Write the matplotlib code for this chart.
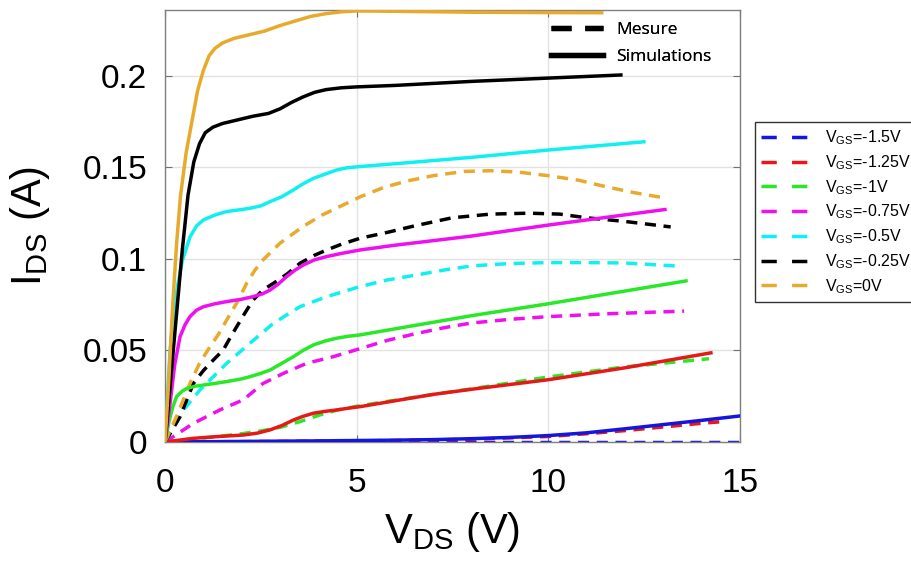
import matplotlib
matplotlib.use("Agg")
import numpy as np
import matplotlib.pyplot as plt
from matplotlib.lines import Line2D

# gate voltages and colours, from -1.5 V up to 0 V
vgs_labels = ["-1.5V", "-1.25V", "-1V", "-0.75V", "-0.5V", "-0.25V", "0V"]
colors = ["#1515e0", "#e81818", "#28e828", "#ee10ee", "#10f0f0", "#000000", "#e8aa2c"]

# simulations (solid lines): VDS (V), IDS (A)
sim_v = [
    [0, 2, 4, 6, 7, 8, 9, 10, 11, 12, 13, 14, 15],
    [0, 0.74, 1.4, 2.04, 2.4, 2.74, 3.05, 3.35, 3.6, 3.87, 4.2, 4.48, 4.8, 5.09, 6, 7, 8, 10, 12, 14.25],
    [0, 0.1, 0.2, 0.3, 0.45, 0.57, 0.8, 1.0, 1.3, 1.61, 2.0, 2.22, 2.5, 2.74, 3.05, 3.35, 3.6, 3.87,
     4.2, 4.48, 4.8, 5.09, 6, 8, 10, 13.6],
    [0, 0.13, 0.25, 0.39, 0.52, 0.65, 0.82, 1.0, 1.3, 1.61, 2.0, 2.3, 2.55, 2.74, 2.95, 3.17, 3.4,
     3.61, 3.9, 4.22, 4.6, 5.09, 6, 8, 10, 13.05],
    [0, 0.13, 0.26, 0.45, 0.65, 0.82, 1.0, 1.3, 1.61, 2.0, 2.22, 2.5, 2.74, 3.05, 3.35, 3.6, 3.87,
     4.2, 4.48, 4.75, 5.04, 6, 8, 10, 12.5],
    [0, 0.15, 0.3, 0.45, 0.6, 0.75, 0.9, 1.05, 1.25, 1.5, 1.9, 2.3, 2.7, 3.0, 3.3, 3.6, 3.9, 4.2,
     4.6, 5.0, 6, 8, 10, 11.9],
    [0, 0.1, 0.2, 0.3, 0.4, 0.55, 0.7, 0.85, 1.0, 1.15, 1.3, 1.5, 1.8, 2.2, 2.6, 3.0, 3.4, 3.8,
     4.2, 4.6, 5.0, 6, 8, 10, 11.4],
]
sim_i = [
    [0, 0.0003, 0.0006, 0.001, 0.0013, 0.0018, 0.0025, 0.0035, 0.005, 0.0072, 0.0095, 0.0118, 0.0142],
    [0, 0.002, 0.003, 0.0038, 0.0048, 0.0066, 0.009, 0.012, 0.014, 0.0157, 0.0168, 0.0175, 0.0185,
     0.0193, 0.0225, 0.026, 0.0288, 0.034, 0.0405, 0.0487],
    [0, 0.011, 0.019, 0.0248, 0.0278, 0.0293, 0.0305, 0.0311, 0.032, 0.033, 0.0345, 0.0357, 0.0375,
     0.0393, 0.043, 0.0466, 0.05, 0.053, 0.0553, 0.0567, 0.0578, 0.0585, 0.0618, 0.069, 0.0755, 0.088],
    [0, 0.021, 0.042, 0.0575, 0.064, 0.0685, 0.072, 0.0739, 0.0755, 0.0767, 0.078, 0.0794, 0.081,
     0.083, 0.0862, 0.0903, 0.094, 0.0967, 0.0995, 0.1013, 0.103, 0.1049, 0.1075, 0.1125, 0.1185, 0.127],
    [0, 0.05, 0.0776, 0.099, 0.112, 0.118, 0.1213, 0.124, 0.1259, 0.127, 0.1277, 0.129, 0.1313,
     0.134, 0.1377, 0.141, 0.144, 0.1465, 0.1486, 0.1498, 0.1504, 0.152, 0.1555, 0.1595, 0.164],
    [0, 0.035, 0.07, 0.105, 0.135, 0.153, 0.163, 0.169, 0.172, 0.174, 0.176, 0.178, 0.1795, 0.182,
     0.1855, 0.1885, 0.191, 0.1925, 0.1935, 0.194, 0.1948, 0.197, 0.1988, 0.2005],
    [0, 0.035, 0.075, 0.108, 0.134, 0.158, 0.175, 0.192, 0.203, 0.211, 0.215, 0.218, 0.2205, 0.2225,
     0.2245, 0.2275, 0.230, 0.2325, 0.234, 0.235, 0.2355, 0.2353, 0.2348, 0.2346, 0.2345],
]

# measurements (dashed lines)
mes_v = [
    [0, 5, 10, 15],
    [0, 3, 6, 8, 10, 11, 12, 13, 14, 14.6],
    [0, 0.5, 1, 1.5, 2, 2.5, 3, 3.5, 4, 4.5, 5, 6, 7, 8, 10, 12, 14.2],
    [0, 0.22, 0.74, 1.43, 2.04, 2.56, 3.09, 3.7, 4.39, 5.09, 5.8, 6.5, 7.3, 8, 9, 10, 11.5, 13.55],
    [0, 0.2, 0.48, 0.91, 1.61, 2.22, 2.83, 3.52, 4.22, 5.09, 5.8, 6.5, 7.3, 8, 9, 10, 11, 12, 13.45],
    [0, 0.39, 0.74, 1.0, 1.26, 1.52, 1.7, 1.87, 2.1, 2.3, 2.55, 2.83, 3.2, 3.52, 3.9, 4.22, 4.6,
     5.09, 5.8, 6.5, 7.5, 8.5, 9.5, 10.3, 11, 12, 13.2],
    [0, 0.3, 0.65, 0.9, 1.17, 1.4, 1.61, 1.9, 2.13, 2.35, 2.56, 3.0, 3.6, 4.1, 5.1, 5.7, 6.3, 7,
     7.8, 8.5, 9.2, 10, 10.8, 11.5, 12.3, 13.0],
]
mes_i = [
    [0, 0, 0, 0],
    [0, 0.0003, 0.0008, 0.0015, 0.003, 0.0045, 0.0062, 0.0082, 0.0102, 0.0112],
    [0, 0.0012, 0.0022, 0.0033, 0.0045, 0.006, 0.008, 0.011, 0.0145, 0.0175, 0.0195, 0.0228, 0.026,
     0.029, 0.0355, 0.041, 0.0455],
    [0, 0.003, 0.0102, 0.0175, 0.023, 0.032, 0.0375, 0.043, 0.0466, 0.051, 0.0555, 0.059, 0.0625,
     0.065, 0.067, 0.0685, 0.070, 0.0715],
    [0, 0.007, 0.0175, 0.0284, 0.043, 0.054, 0.0649, 0.0739, 0.0794, 0.0849, 0.0885, 0.091, 0.094,
     0.0962, 0.0975, 0.098, 0.098, 0.0978, 0.096],
    [0, 0.0138, 0.032, 0.039, 0.0448, 0.0503, 0.057, 0.063, 0.071, 0.0776, 0.083, 0.0867, 0.092,
     0.0976, 0.102, 0.1049, 0.108, 0.1113, 0.1145, 0.118, 0.1225, 0.1245, 0.125, 0.1245, 0.1225,
     0.1205, 0.1175],
    [0, 0.014, 0.032, 0.043, 0.052, 0.059, 0.0667, 0.077, 0.0867, 0.094, 0.0995, 0.1086, 0.1177,
     0.124, 0.134, 0.139, 0.1425, 0.1455, 0.1478, 0.1482, 0.1475, 0.1455, 0.143, 0.1395, 0.136, 0.1335],
]

x_ticks = [0, 5, 10, 15]
y_ticks = [0, 0.05, 0.1, 0.15, 0.2]
y_tick_labels = ["0", "0.05", "0.1", "0.15", "0.2"]

plt.rcParams["font.family"] = ["Liberation Sans", "DejaVu Sans"]
plt.rcParams["mathtext.fontset"] = "custom"
plt.rcParams["mathtext.rm"] = "Liberation Sans"
plt.rcParams["mathtext.it"] = "Liberation Sans:italic"
plt.rcParams["mathtext.default"] = "regular"

fig = plt.figure(figsize=(9.12, 5.72), dpi=100)
ax = fig.add_axes([0.181, 0.2273, 0.63, 0.7552])

lw = 2.5
dash = (3.2, 2.2)
for v, i, c in zip(mes_v, mes_i, colors):
    ax.plot(v, i, color=c, lw=lw, dashes=dash, zorder=2)
for v, i, c in zip(sim_v, sim_i, colors):
    ax.plot(v, i, color=c, lw=lw, zorder=3)

ax.set_xlim(0, 15)
ax.set_ylim(0, 0.236)
ax.set_xticks(x_ticks)
ax.set_xticklabels([str(t) for t in x_ticks])
ax.set_yticks(y_ticks)
ax.set_yticklabels(y_tick_labels)
ax.tick_params(direction="in", length=5, width=0.8, color="#707070",
               labelsize=24, top=True, right=True)
ax.tick_params(axis="x", pad=19)
ax.tick_params(axis="y", pad=13)
ax.grid(True, color="#e2e2e2", lw=1)
ax.set_axisbelow(True)
for s in ax.spines.values():
    s.set_color("#808080")
    s.set_linewidth(1)

ax.set_xlabel("$V_{DS}$ (V)", fontsize=30, labelpad=8)
ax.set_ylabel("$I_{DS}$ (A)", fontsize=30, labelpad=22)

# Mesure / Simulations key inside the axes
key_handles = [Line2D([], [], color="black", lw=3.8, dashes=(3.8, 2.6)),
               Line2D([], [], color="black", lw=3.8)]
leg1 = ax.legend(key_handles, ["Mesure", "Simulations"], loc="upper left",
                 bbox_to_anchor=(551 / 912, 1 - 22 / 572), bbox_transform=fig.transFigure,
                 frameon=False, prop={"family": "Open Sans", "size": 12.5},
                 handlelength=3.0, handletextpad=0.75, labelspacing=0.62,
                 borderaxespad=0, borderpad=0)
ax.add_artist(leg1)

# VGS key outside on the right
vgs_handles = [Line2D([], [], color=c, lw=lw, dashes=(4.4, 4.4)) for c in colors]
fig.legend(vgs_handles, ["$V_{GS}$=" + s for s in vgs_labels], loc="upper left",
           bbox_to_anchor=(755 / 912, 1 - 122 / 572), frameon=True, fancybox=False,
           edgecolor="black", fontsize=11.5, handlelength=3.3, handletextpad=0.7,
           labelspacing=0.38, borderpad=0.4, borderaxespad=0)

fig.savefig("out.png", dpi=100)
